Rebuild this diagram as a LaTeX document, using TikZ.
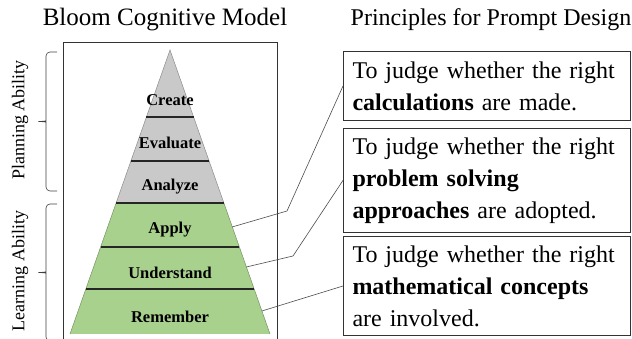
\documentclass[tikz,border=0pt]{standalone}
\usepackage{fontspec}
\setmainfont{Liberation Serif}
\usetikzlibrary{calc}
\definecolor{layergray}{HTML}{C9C9C9}
\definecolor{layergreen}{HTML}{A9D18E}

\begin{document}
\begin{tikzpicture}[x=1pt,y=1pt,
  level/.style={font=\fontsize{16.5}{18}\selectfont\bfseries},
  crit/.style={draw=black!80,line width=1pt,anchor=north west,minimum width=287pt,text width=269pt,inner sep=9pt,align=left,font=\fontsize{24}{32}\selectfont},
  link/.style={draw=black!70,line width=0.6pt},
  ability/.style={rotate=90,font=\fontsize{18}{20}\selectfont},
  bracket/.style={draw=black!75,line width=0.6pt,rounded corners=4pt}]
  \useasboundingbox (0,0) rectangle (632,339);

  \node (bloom) at (165,319) {\fontsize{25}{28}\selectfont Bloom Cognitive Model};
  \node (prompt) at (491,319) {\fontsize{24}{28}\selectfont Principles for Prompt Design};

  \draw[black!80,line width=1pt] (63,-2) -- (63,296) -- (277,296) -- (277,-2);

  \coordinate (A) at (170,289);
  \coordinate (BL) at (70,5);
  \coordinate (BR) at (270,5);
  \coordinate (ML) at ($(A)!0.539!(BL)$);
  \coordinate (MR) at ($(A)!0.539!(BR)$);

  \path[fill=layergray] (A) -- (ML) -- (MR) -- cycle;
  \path[fill=layergreen] (ML) -- (BL) -- (BR) -- (MR) -- cycle;
  \draw[black!45,line width=0.5pt] (ML) -- (A) -- (MR);
  \draw[layergreen!70!black,line width=0.5pt] (ML) -- (BL) (MR) -- (BR);

  \foreach \t in {0.236,0.391,0.539,0.694,0.842}
    \draw[line width=1.3pt,black!85] ($(A)!\t!(BL)$) -- ($(A)!\t!(BR)$);

  \node[level] (create) at (170,239) {Create};
  \node[level] (evaluate) at (170,196) {Evaluate};
  \node[level] (analyze) at (170,152) {Analyze};
  \node[level] (apply) at (170,109) {Apply};
  \node[level] (understand) at (170,66) {Understand};
  \node[level] (remember) at (170,22) {Remember};

  \draw[bracket] (57,287) -| (46,221) to[out=-90,in=0] (36,217.5) to[out=0,in=90] (46,214) |- (57,148);
  \draw[bracket] (57,135) -| (46,70) to[out=-90,in=0] (36,66.5) to[out=0,in=90] (46,63) |- (57,-2);
  \node[ability] (planning) at (20,219) {Planning Ability};
  \node[ability] (learning) at (20,68) {Learning Ability};

  \node[crit,minimum height=69pt] (calcbox) at (343,288) {To judge whether the right\\\textbf{calculations} are made.};
  \node[crit,minimum height=100pt] (approachbox) at (343,211) {To judge whether the right\\\textbf{problem solving}\\\textbf{approaches} are adopted.};
  \node[crit,minimum height=99pt] (conceptbox) at (343,103) {To judge whether the right\\\textbf{mathematical concepts}\\are involved.};

  \coordinate (P1) at ($(A)!0.623!(BR)$);
  \coordinate (P2) at ($(A)!0.764!(BR)$);
  \coordinate (P3) at ($(A)!0.919!(BR)$);
  \coordinate (K1) at (287,128);
  \coordinate (K2) at (293,83);

  \draw[link] (P1) -- (K1) -- (calcbox.west);
  \draw[link] (P2) -- (K2) -- (approachbox.west);
  \draw[link] (P3) -- (conceptbox.west);
\end{tikzpicture}
\end{document}
